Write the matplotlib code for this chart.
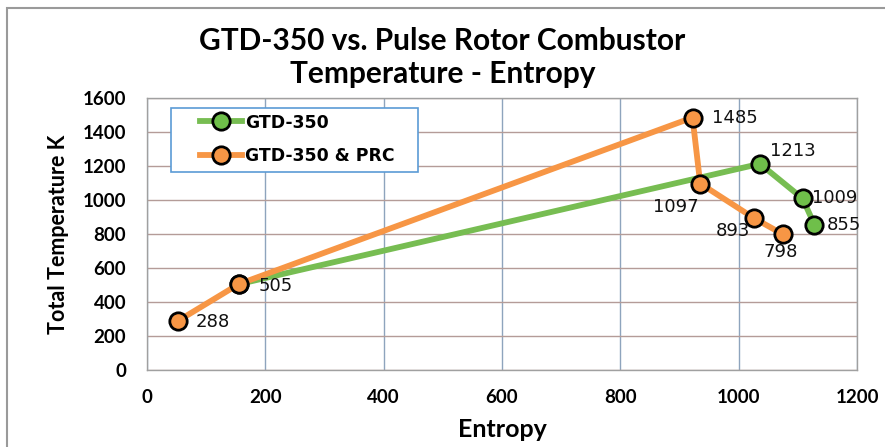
import matplotlib
matplotlib.use("Agg")
import matplotlib.pyplot as plt
from matplotlib.patches import Rectangle

gtd_x = [155, 1036, 1108, 1128]
gtd_y = [505, 1213, 1009, 855]
prc_x = [52, 155, 922, 935, 1026, 1075]
prc_y = [288, 505, 1485, 1097, 893, 798]

x_ticks = [0, 200, 400, 600, 800, 1000, 1200]
y_ticks = [0, 200, 400, 600, 800, 1000, 1200, 1400, 1600]

fig = plt.figure(figsize=(8.85, 4.47), dpi=100)
ax = fig.add_axes([147/885, 1-370/447, 710/885, 272/447])

fig.patches.append(Rectangle((7/885, -0.1), 1.2, 1-8/447+0.1, transform=fig.transFigure,
                             fill=False, edgecolor='#9a9a9a', linewidth=1.5))

green = '#77bd52'
orange = '#f79645'
ax.plot(gtd_x, gtd_y, color=green, lw=4.2, marker='o', ms=12.5, mfc='#6fbf4a',
        mec='black', mew=2, label='GTD-350', zorder=3)
ax.plot(prc_x, prc_y, color=orange, lw=4.2, marker='o', ms=12.5, mfc=orange,
        mec='black', mew=2, label='GTD-350 & PRC', zorder=4)

lab_font = dict(fontsize=13, family='DejaVu Sans', color='#111111', va='center')
offsets_gtd = [None, (7, 9, 'left'), (7, 0, 'left'), (9, 0, 'left')]
for x, y, off in zip(gtd_x, gtd_y, offsets_gtd):
    if off is None:
        continue
    ax.annotate(str(y), (x, y), xytext=off[:2], textcoords='offset points',
                ha=off[2], **lab_font)
offsets_prc = [(13, -1, 'left'), (14, -1, 'left'), (14, 0, 'left'),
               (-1, -17, 'right'), (-3, -9, 'right'), (-2, -12.5, 'center')]
for x, y, off in zip(prc_x, prc_y, offsets_prc):
    ax.annotate(str(y), (x, y), xytext=off[:2], textcoords='offset points',
                ha=off[2], zorder=5, **lab_font)

ax.set_xlim(0, 1200)
ax.set_ylim(0, 1600)
ax.set_xticks(x_ticks)
ax.set_yticks(y_ticks)
ax.tick_params(length=0)
for lbl in ax.get_xticklabels() + ax.get_yticklabels():
    lbl.set_fontfamily('Lato')
    lbl.set_fontweight('bold')
    lbl.set_fontsize(13.5)
ax.tick_params(axis='y', pad=15)
ax.tick_params(axis='x', pad=14)

ax.xaxis.grid(True, color='#8ea4bd', lw=1)
ax.yaxis.grid(True, color='#b49c98', lw=1)
ax.set_axisbelow(True)
for s in ax.spines.values():
    s.set_color('#a0a0a0')
    s.set_linewidth(1)

ax.set_xlabel('Entropy', fontfamily='Lato', fontweight='bold', fontsize=18)
ax.xaxis.label.set_va('center')
ax.xaxis.set_label_coords(0.5, -0.22)
ax.set_ylabel('Total Temperature K', fontfamily='Lato', fontweight='bold', fontsize=15.5)
ax.yaxis.label.set_va('center')
ax.yaxis.set_label_coords(-0.125, 0.498)

fig.text(0.5, 1-41/447, 'GTD-350 vs. Pulse Rotor Combustor', ha='center', va='center',
         fontfamily='Lato', fontweight='bold', fontsize=21.5)
fig.text(0.5, 1-74/447, 'Temperature - Entropy', ha='center', va='center',
         fontfamily='Lato', fontweight='bold', fontsize=21.5)

ax.add_patch(Rectangle((24/710, 198/272), 247/710, 64/272, transform=ax.transAxes,
                       facecolor='white', edgecolor='#5b9bd5', lw=1.2, zorder=6))
leg = ax.legend(loc='upper left', bbox_to_anchor=(53/710, 0.943), frameon=False,
                prop=dict(family='DejaVu Sans', weight='bold', size=12.4), handlelength=2.42,
                borderpad=0, labelspacing=0.9, handletextpad=0.2, borderaxespad=0)
leg.set_zorder(7)

fig.savefig('out.png', dpi=100)
